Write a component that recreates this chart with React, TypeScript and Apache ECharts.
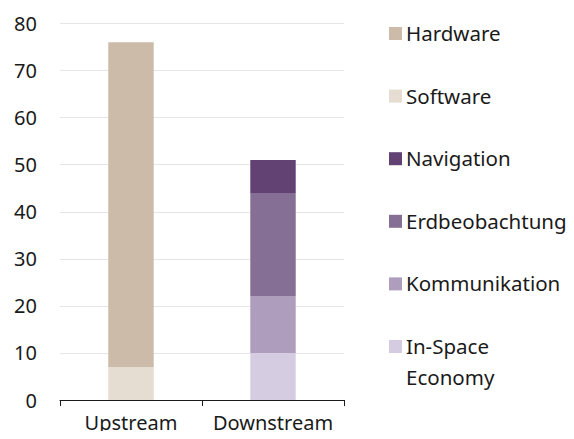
import React, { useEffect, useRef } from "react";
import * as echarts from "echarts";

const categories = ["Upstream", "Downstream"];
const seriesNames = ["Software", "Hardware", "In-Space Economy", "Kommunikation", "Erdbeobachtung", "Navigation"];
const upstreamValues = [7, 69, null, null, null, null];
const downstreamValues = [null, null, 10, 12, 22, 7];
const colors = ["#e5dcd2", "#cdbbaa", "#d5cce2", "#ae9dbc", "#856f95", "#624173"];
const legendOrder = ["Hardware", "Software", "Navigation", "Erdbeobachtung", "Kommunikation", "In-Space Economy"];
const legendLabels = ["Hardware", "Software", "Navigation", "Erdbeobachtung", "Kommunikation", "In-Space\nEconomy"];
const yTicks = [0, 10, 20, 30, 40, 50, 60, 70, 80];

const FONT = "Noto Sans";

export default function App() {
  const ref = useRef<HTMLDivElement>(null);
  useEffect(() => {
    const chart = echarts.init(ref.current!, null, { renderer: "svg" });
    const series = seriesNames.map((name, i) => ({
      name,
      type: "bar",
      stack: "total",
      barWidth: "32%",
      itemStyle: { color: colors[i] },
      data: [upstreamValues[i] ?? "-", downstreamValues[i] ?? "-"],
    }));
    const graphic: any[] = [];
    const lh = 31;
    legendOrder.forEach((name, k) => {
      const idx = seriesNames.indexOf(name);
      const cy = 33 + k * 62.6;
      graphic.push({
        type: "rect",
        shape: { x: 389, y: cy - 6, width: 13, height: 13 },
        style: { fill: colors[idx] },
      });
      graphic.push({
        type: "text",
        x: 406,
        y: cy - lh / 2,
        style: {
          text: legendLabels[k],
          font: `20.5px "${FONT}"`,
          fill: "#1a1a1a",
          lineHeight: lh,
          verticalAlign: "top",
        },
      });
    });
    chart.setOption({
      animation: false,
      textStyle: { fontFamily: FONT },
      grid: { left: 60, right: 230, top: 23.5, bottom: 39, containLabel: false },
      xAxis: {
        type: "category",
        data: categories,
        axisLine: { lineStyle: { color: "#1a1a1a", width: 1 } },
        axisTick: { show: true, length: 6, lineStyle: { color: "#1a1a1a" } },
        axisLabel: { fontSize: 20, color: "#1a1a1a", margin: 12, fontFamily: FONT, interval: 0, hideOverlap: false },
      },
      yAxis: {
        type: "value",
        min: yTicks[0],
        max: yTicks[yTicks.length - 1],
        interval: 10,
        axisLine: { show: false },
        axisTick: { show: false },
        axisLabel: { fontSize: 20, color: "#1a1a1a", margin: 23, fontFamily: FONT },
        splitLine: { lineStyle: { color: "#e6e6e6", width: 1 } },
      },
      series,
      graphic,
    });
    return () => chart.dispose();
  }, []);
  return <div ref={ref} style={{ width: 574, height: 439, margin: -8 }} />;
}
